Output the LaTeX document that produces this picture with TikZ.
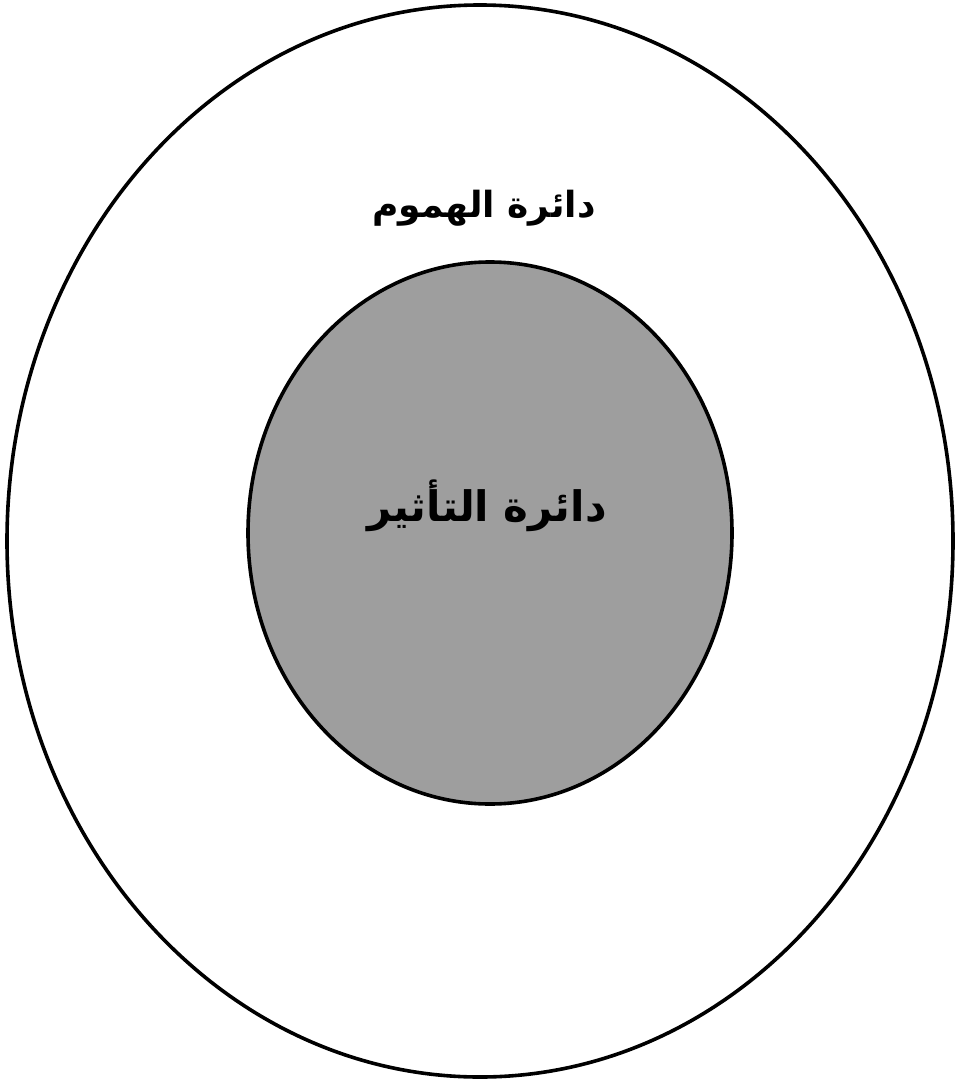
\documentclass[tikz,border=0pt]{standalone}
\usepackage{fontspec}
\TeXXeTstate=1
\newfontfamily\arabicfont[Script=Arabic]{DejaVu Sans}
\begin{document}
\begin{tikzpicture}[x=1pt,y=-1pt,
  ring/.style={draw=black,line width=3.6pt},
  lbl/.style={font=\arabicfont\bfseries\fontsize{36}{42}\selectfont,inner sep=0pt}]
\useasboundingbox (0,0) rectangle (956,1081);
\fill[white] (0,0) rectangle (956,1081);
\draw[ring] (480,541) ellipse [x radius=473, y radius=536];
\draw[ring,fill=black!38] (490,533) ellipse [x radius=242, y radius=271];
\node[lbl] (outer) at (484,208) {\beginR دائرة الهموم\endR};
\node[lbl,font=\arabicfont\bfseries\fontsize{42}{48}\selectfont] (inner) at (487,506) {\beginR دائرة التأثير\endR};
\end{tikzpicture}
\end{document}
